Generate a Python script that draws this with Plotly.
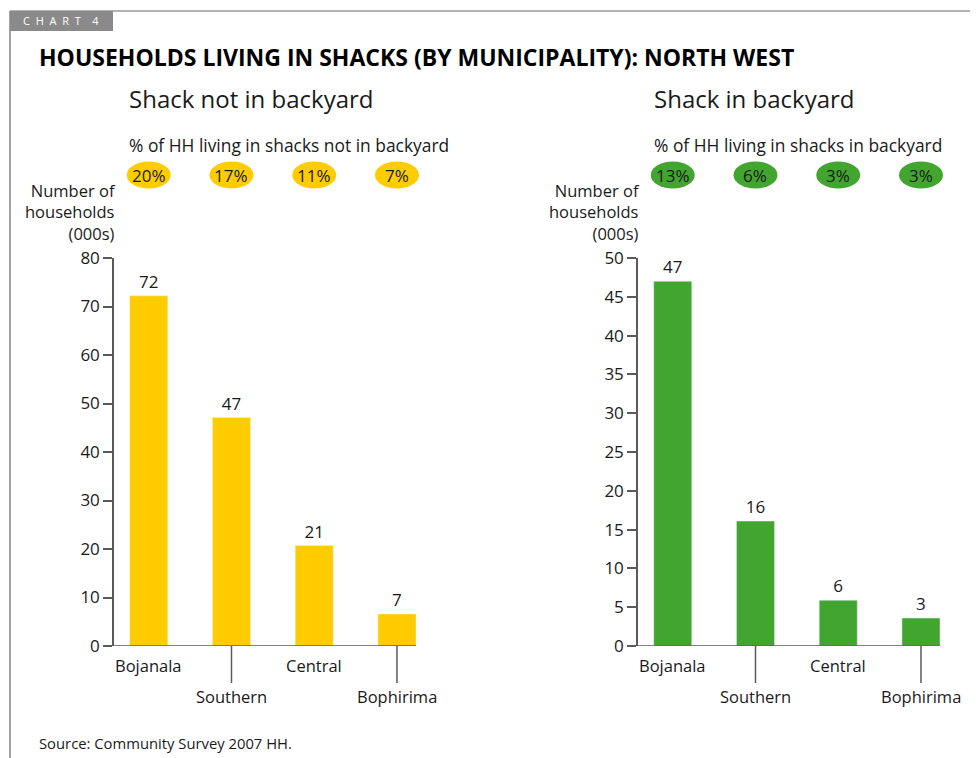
import plotly.graph_objects as go

W, H = 978, 758
OFF = 8  # page body margin in the browser

municipalities = ['Bojanala', 'Southern', 'Central', 'Bophirima']
not_backyard = [72.2, 47.1, 20.7, 6.6]
not_backyard_labels = ['72', '47', '21', '7']
not_backyard_pct = ['20%', '17%', '11%', '7%']
in_backyard = [47.0, 16.1, 5.9, 3.6]
in_backyard_labels = ['47', '16', '6', '3']
in_backyard_pct = ['13%', '6%', '3%', '3%']

YELLOW = '#FFCC00'
GREEN = '#42A52F'
AXIS = '#5a5a5a'
TXT = '#1a1a1a'
FONT = 'Open Sans, Noto Sans, sans-serif'

X_LO, X_HI = -0.42, 3.23   # visible extent of the category axis
X_EXT = 3.76               # room on the right so the ovals are not clipped


def px(x):
    return (x - OFF) / W


def py(y):
    return (H - (y - OFF)) / H


fig = go.Figure()
fig.add_trace(go.Bar(x=municipalities, y=not_backyard, text=not_backyard_labels,
                     textposition='outside', marker=dict(color=YELLOW), width=0.46,
                     textfont=dict(size=17, color=TXT), cliponaxis=False,
                     xaxis='x', yaxis='y'))
fig.add_trace(go.Bar(x=municipalities, y=in_backyard, text=in_backyard_labels,
                     textposition='outside', marker=dict(color=GREEN), width=0.46,
                     textfont=dict(size=17, color=TXT), cliponaxis=False,
                     xaxis='x2', yaxis='y2'))

xcommon = dict(type='category', range=[X_LO, X_EXT], showticklabels=False, ticks='',
               showline=False, showgrid=False, zeroline=False,
               automargin=False, fixedrange=True)
ycommon = dict(showline=True, linecolor=AXIS, linewidth=1.5, ticks='outside', ticklen=9,
               tickcolor=AXIS, tickwidth=1.5, showgrid=False, zeroline=False, automargin=False,
               tickfont=dict(size=17, color=TXT), domain=[py(646), py(258)])

fig.update_layout(
    width=W, height=H, margin=dict(l=0, r=0, t=0, b=0, autoexpand=False),
    paper_bgcolor='white', plot_bgcolor='white', showlegend=False,
    font=dict(family=FONT, color=TXT),
    xaxis=dict(domain=[px(114), px(114 + 302 * (X_EXT - X_LO) / (X_HI - X_LO))], anchor='y', **xcommon),
    yaxis=dict(range=[0, 80], dtick=10, anchor='x', **ycommon),
    xaxis2=dict(domain=[px(638), px(638 + 302 * (X_EXT - X_LO) / (X_HI - X_LO))], anchor='y2', **xcommon),
    yaxis2=dict(range=[0, 50], dtick=5, anchor='x2', **ycommon),
)

shapes = [
    # frame
    dict(type='line', xref='paper', yref='paper', x0=px(10), x1=1, y0=py(11), y1=py(11),
         line=dict(color='#666666', width=1.2)),
    dict(type='line', xref='paper', yref='paper', x0=px(10), x1=px(10), y0=py(11), y1=0,
         line=dict(color='#666666', width=1.2)),
    dict(type='rect', xref='paper', yref='paper', x0=px(10), x1=px(113), y0=py(31), y1=py(11),
         fillcolor='#8a8a8a', line=dict(width=0)),
]
annotations = [
    dict(text='C  H  A  R  T    4', x=px(21), y=py(21), xref='paper', yref='paper',
         xanchor='left', yanchor='middle', showarrow=False, font=dict(size=11, color='white')),
    dict(text='<b>HOUSEHOLDS LIVING IN SHACKS (BY MUNICIPALITY): NORTH WEST</b>',
         x=px(37), y=py(57), xref='paper', yref='paper', xanchor='left', yanchor='middle',
         showarrow=False, font=dict(size=23, color='black')),
    dict(text='Source: Community Survey 2007 HH.', x=px(37), y=py(743), xref='paper', yref='paper',
         xanchor='left', yanchor='middle', showarrow=False, font=dict(size=14.8, color=TXT)),
]

panels = [
    ('x', 'y', 'Shack not in backyard', '% of HH living in shacks not in backyard', not_backyard_pct, YELLOW, 127, 118),
    ('x2', 'y2', 'Shack in backyard', '% of HH living in shacks in backyard', in_backyard_pct, GREEN, 652, 642),
]
for xr, yr, sub, pct_title, pcts, col, left, axis_x in panels:
    # category baseline
    shapes.append(dict(type='line', xref=xr, yref=yr, x0=X_LO, x1=X_HI, y0=0, y1=0,
                       line=dict(color=AXIS, width=1.5)))
    annotations.append(dict(text=sub, x=px(left), y=py(98), xref='paper', yref='paper',
                            xanchor='left', yanchor='middle', showarrow=False,
                            font=dict(size=24, color=TXT)))
    annotations.append(dict(text=pct_title, x=px(left), y=py(145), xref='paper', yref='paper',
                            xanchor='left', yanchor='middle', showarrow=False,
                            font=dict(size=17.4, color=TXT)))
    annotations.append(dict(text='Number of<br>households<br>(000s)', x=px(axis_x), y=py(212),
                            xref='paper', yref='paper', xanchor='right', yanchor='middle',
                            align='right', showarrow=False, font=dict(size=16.5, color=TXT)))
    for i, (m, p) in enumerate(zip(municipalities, pcts)):
        shapes.append(dict(type='circle', xref=xr, yref='paper', xsizemode='pixel', xanchor=m,
                           x0=-22, x1=22, ysizemode='pixel', yanchor=py(175), y0=-13.5, y1=13.5,
                           fillcolor=col, line=dict(width=0)))
        annotations.append(dict(text=p, x=m, y=py(175), xref=xr, yref='paper',
                                xanchor='center', yanchor='middle',
                                showarrow=False, font=dict(size=17, color=TXT)))
        low = i % 2 == 1
        annotations.append(dict(text=m, x=m, y=py(696 if low else 665), xref=xr, yref='paper',
                                xanchor='center', yanchor='middle', showarrow=False,
                                font=dict(size=16.5, color=TXT)))
        if low:
            shapes.append(dict(type='line', xref=xr, yref='paper', x0=m, x1=m,
                               y0=py(646), y1=py(683), line=dict(color=AXIS, width=1.5)))

fig.update_layout(shapes=shapes, annotations=annotations)
fig.write_html("out.html")
